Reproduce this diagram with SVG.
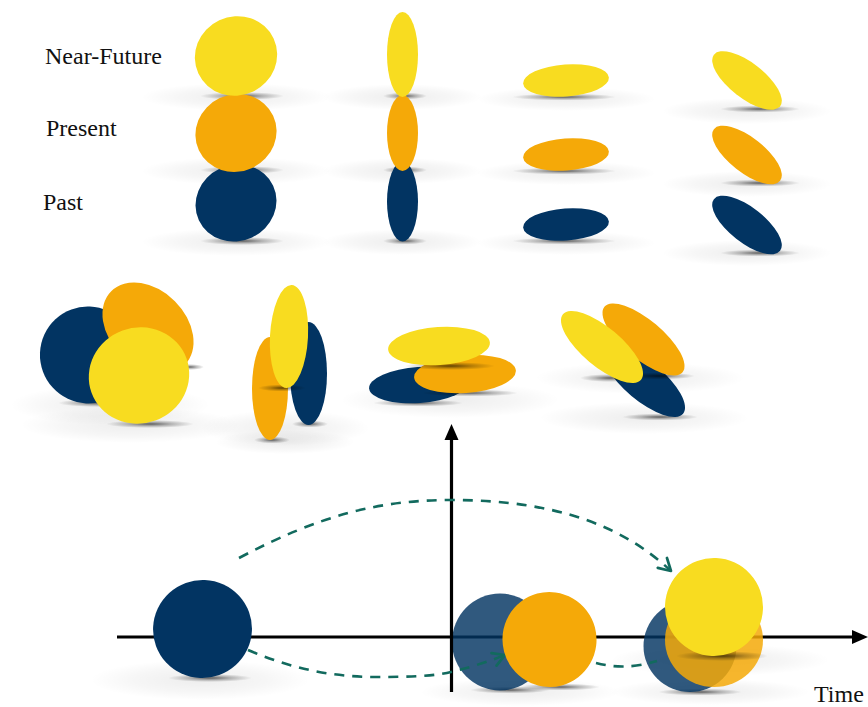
<svg xmlns="http://www.w3.org/2000/svg" width="868" height="707" viewBox="0 0 868 707">
  <style>
    .y { fill: #f8dc20; }
    .o { fill: #f5a908; }
    .n { fill: #023462; }
    .floor { fill: url(#floor); }
    .contact { fill: url(#contact); }
    .label { font-family: "Liberation Serif", "Times New Roman", serif; font-size: 24px; fill: #111; }
    .axis { stroke: #000; stroke-width: 3.2; fill: none; }
    .flow { stroke: #126a5e; stroke-width: 2.6; fill: none; stroke-dasharray: 10 8; }
  </style>
  <defs>
    <radialGradient id="floor" cx="50%" cy="50%" r="50%">
      <stop offset="0" stop-color="#000" stop-opacity="0.07"/>
      <stop offset="0.6" stop-color="#000" stop-opacity="0.035"/>
      <stop offset="1" stop-color="#000" stop-opacity="0"/>
    </radialGradient>
    <radialGradient id="contact" cx="50%" cy="50%" r="50%">
      <stop offset="0" stop-color="#000" stop-opacity="0.6"/>
      <stop offset="0.5" stop-color="#000" stop-opacity="0.25"/>
      <stop offset="1" stop-color="#000" stop-opacity="0"/>
    </radialGradient>
    <marker id="chev" viewBox="0 0 10 10" refX="8" refY="5" markerWidth="6.5" markerHeight="6.5" orient="auto" markerUnits="strokeWidth">
      <path d="M1,1 L8,5 L1,9" fill="none" stroke="#126a5e" stroke-width="1.6" stroke-linecap="round" stroke-linejoin="round"/>
    </marker>
  </defs>

  <!-- row labels -->
  <g id="labels">
    <text class="label" x="45" y="64">Near-Future</text>
    <text class="label" x="46" y="136">Present</text>
    <text class="label" x="43" y="210">Past</text>
  </g>

  <!-- top row: each disc at three time steps -->
  <g id="disc-face">
    <ellipse class="floor" cx="236" cy="97" rx="95" ry="14"/>
    <ellipse class="floor" cx="236" cy="171" rx="95" ry="14"/>
    <ellipse class="floor" cx="236" cy="242" rx="95" ry="14"/>
    <ellipse class="contact" cx="242" cy="96" rx="42" ry="4"/>
    <ellipse class="contact" cx="242" cy="170" rx="42" ry="4"/>
    <ellipse class="contact" cx="242" cy="241" rx="42" ry="4"/>
    <ellipse class="n" cx="236" cy="203" rx="41" ry="38" transform="rotate(-25 236 203)"/>
    <ellipse class="o" cx="236" cy="133" rx="41" ry="38.5" transform="rotate(-25 236 133)"/>
    <ellipse class="y" cx="236" cy="56" rx="41.5" ry="39.5" transform="rotate(-25 236 56)"/>
  </g>

  <g id="disc-edge">
    <ellipse class="floor" cx="402" cy="97" rx="80" ry="13"/>
    <ellipse class="floor" cx="402" cy="171" rx="80" ry="13"/>
    <ellipse class="floor" cx="402" cy="242" rx="80" ry="13"/>
    <ellipse class="contact" cx="405" cy="96" rx="22" ry="3.5"/>
    <ellipse class="contact" cx="405" cy="170" rx="22" ry="3.5"/>
    <ellipse class="contact" cx="405" cy="241" rx="22" ry="3.5"/>
    <ellipse class="n" cx="402.5" cy="201.5" rx="15.5" ry="40"/>
    <ellipse class="o" cx="402.5" cy="133" rx="15.5" ry="38"/>
    <ellipse class="y" cx="402.5" cy="54.5" rx="15.5" ry="42.5"/>
  </g>

  <g id="disc-flat">
    <ellipse class="floor" cx="566" cy="99" rx="90" ry="12"/>
    <ellipse class="floor" cx="566" cy="173" rx="90" ry="12"/>
    <ellipse class="floor" cx="566" cy="243" rx="90" ry="12"/>
    <ellipse class="contact" cx="564" cy="97" rx="52" ry="3.5"/>
    <ellipse class="contact" cx="564" cy="171" rx="52" ry="3.5"/>
    <ellipse class="contact" cx="564" cy="241" rx="52" ry="3.5"/>
    <ellipse class="n" cx="566" cy="224.5" rx="43" ry="16" transform="rotate(-4 566 224.5)"/>
    <ellipse class="o" cx="566" cy="154.5" rx="43" ry="16" transform="rotate(-4 566 154.5)"/>
    <ellipse class="y" cx="566" cy="80.5" rx="43" ry="16" transform="rotate(-4 566 80.5)"/>
  </g>

  <g id="disc-tilted">
    <ellipse class="floor" cx="747" cy="111" rx="85" ry="13"/>
    <ellipse class="floor" cx="747" cy="184" rx="85" ry="13"/>
    <ellipse class="floor" cx="747" cy="253" rx="85" ry="13"/>
    <ellipse class="contact" cx="760" cy="109" rx="40" ry="3.5"/>
    <ellipse class="contact" cx="760" cy="183" rx="40" ry="3.5"/>
    <ellipse class="contact" cx="760" cy="253" rx="40" ry="3.5"/>
    <ellipse class="n" cx="747" cy="225" rx="42" ry="17.5" transform="rotate(38 747 225)"/>
    <ellipse class="o" cx="747" cy="155" rx="42" ry="17.5" transform="rotate(38 747 155)"/>
    <ellipse class="y" cx="747" cy="80.5" rx="42" ry="17.5" transform="rotate(38 747 80.5)"/>
  </g>

  <!-- middle row: the three time steps stacked -->
  <g id="stack-face">
    <ellipse class="floor" cx="110" cy="405" rx="100" ry="20"/>
    <ellipse class="floor" cx="130" cy="425" rx="110" ry="18"/>
    <ellipse class="contact" cx="98" cy="403" rx="40" ry="4"/>
    <ellipse class="contact" cx="150" cy="424" rx="44" ry="4"/>
    <ellipse class="n" cx="88" cy="355" rx="48" ry="48.5" transform="rotate(-20 88 355)"/>
    <ellipse class="o" cx="148" cy="328" rx="52" ry="38" transform="rotate(45 148 328)"/>
    <ellipse class="contact" cx="190" cy="367" rx="14" ry="3"/>
    <ellipse class="y" cx="139" cy="375.5" rx="50.5" ry="48" transform="rotate(-20 139 375.5)"/>
  </g>

  <g id="stack-edge">
    <ellipse class="floor" cx="285" cy="428" rx="85" ry="18"/>
    <ellipse class="floor" cx="285" cy="442" rx="70" ry="12"/>
    <ellipse class="contact" cx="272" cy="440" rx="18" ry="3.5"/>
    <ellipse class="contact" cx="310" cy="424" rx="18" ry="3.5"/>
    <ellipse class="n" cx="308.5" cy="373.5" rx="18.5" ry="51.5"/>
    <ellipse class="o" cx="270" cy="388.5" rx="18" ry="51.5"/>
    <ellipse class="contact" cx="282" cy="388" rx="24" ry="3.5"/>
    <ellipse class="y" cx="289" cy="336.5" rx="19" ry="51.5" transform="rotate(3 289 336.5)"/>
  </g>

  <g id="stack-flat">
    <ellipse class="floor" cx="450" cy="400" rx="110" ry="18"/>
    <ellipse class="contact" cx="418" cy="403" rx="45" ry="3.5"/>
    <ellipse class="n" cx="419" cy="385" rx="50" ry="18" transform="rotate(-4 419 385)"/>
    <ellipse class="contact" cx="470" cy="393" rx="48" ry="3.5"/>
    <ellipse class="o" cx="465" cy="374" rx="51" ry="19" transform="rotate(-4 465 374)"/>
    <ellipse class="contact" cx="450" cy="366" rx="45" ry="4"/>
    <ellipse class="y" cx="439" cy="346" rx="51" ry="19" transform="rotate(-4 439 346)"/>
  </g>

  <g id="stack-tilted">
    <ellipse class="floor" cx="640" cy="378" rx="105" ry="16"/>
    <ellipse class="floor" cx="644" cy="418" rx="105" ry="16"/>
    <ellipse class="contact" cx="660" cy="417" rx="38" ry="3.5"/>
    <ellipse class="n" cx="644" cy="381" rx="51" ry="19.5" transform="rotate(40 644 381)"/>
    <ellipse class="contact" cx="660" cy="376" rx="35" ry="3.5"/>
    <ellipse class="o" cx="643.5" cy="339.5" rx="51" ry="19.5" transform="rotate(40 643.5 339.5)"/>
    <ellipse class="contact" cx="610" cy="378" rx="30" ry="4"/>
    <ellipse class="y" cx="602" cy="347" rx="51" ry="19.5" transform="rotate(40 602 347)"/>
  </g>

  <!-- bottom: time axis -->
  <g id="shadows-bottom">
    <ellipse class="floor" cx="200" cy="680" rx="110" ry="20"/>
    <ellipse class="contact" cx="210" cy="678" rx="42" ry="4"/>
    <ellipse class="floor" cx="520" cy="692" rx="100" ry="14"/>
    <ellipse class="contact" cx="510" cy="690" rx="40" ry="3.5"/>
    <ellipse class="contact" cx="560" cy="687" rx="40" ry="3.5"/>
    <ellipse class="floor" cx="720" cy="660" rx="110" ry="16"/>
    <ellipse class="floor" cx="710" cy="692" rx="100" ry="13"/>
    <ellipse class="contact" cx="700" cy="692" rx="42" ry="3.5"/>
  </g>

  <g id="axis-time">
    <line class="axis" x1="117" y1="637" x2="856" y2="637"/>
    <polygon points="868,637 852,630 852,644" fill="#000"/>
  </g>

  <g id="past-t0">
    <ellipse class="n" cx="202.5" cy="629" rx="49.5" ry="49" transform="rotate(-20 202.5 629)"/>
  </g>

  <g id="past-t1">
    <ellipse class="n" cx="500" cy="642" rx="48" ry="48.5" opacity="0.82"/>
  </g>

  <g id="past-t2">
    <ellipse class="n" cx="690" cy="646" rx="46.5" ry="46" opacity="0.82"/>
  </g>

  <g id="axis-value">
    <line class="axis" x1="451.5" y1="436" x2="451.5" y2="692"/>
    <polygon points="451.5,424 444.5,440 458.5,440" fill="#000"/>
  </g>

  <g id="connectors">
    <path class="flow" d="M239,558 C320,515 380,500 451,500 C560,500 625,528 671,571" marker-end="url(#chev)"/>
    <path class="flow" d="M248,650 C290,668 330,677 377,677 C410,677 435,676 451,672 C472,667 490,661 505,655" marker-end="url(#chev)"/>
    <path class="flow" d="M596,663 C612,667 630,669 657,661"/>
  </g>

  <g id="present-t1">
    <ellipse class="o" cx="549.5" cy="639.5" rx="47" ry="47.5" transform="rotate(-15 549.5 639.5)"/>
  </g>

  <g id="present-t2">
    <ellipse class="o" cx="714" cy="640" rx="49" ry="47" opacity="0.85"/>
    <ellipse class="contact" cx="722" cy="656" rx="46" ry="5"/>
  </g>

  <g id="future-t2">
    <ellipse class="y" cx="714" cy="607" rx="49" ry="49" transform="rotate(-20 714 607)"/>
  </g>

  <text class="label" x="814" y="702">Time</text>
</svg>
